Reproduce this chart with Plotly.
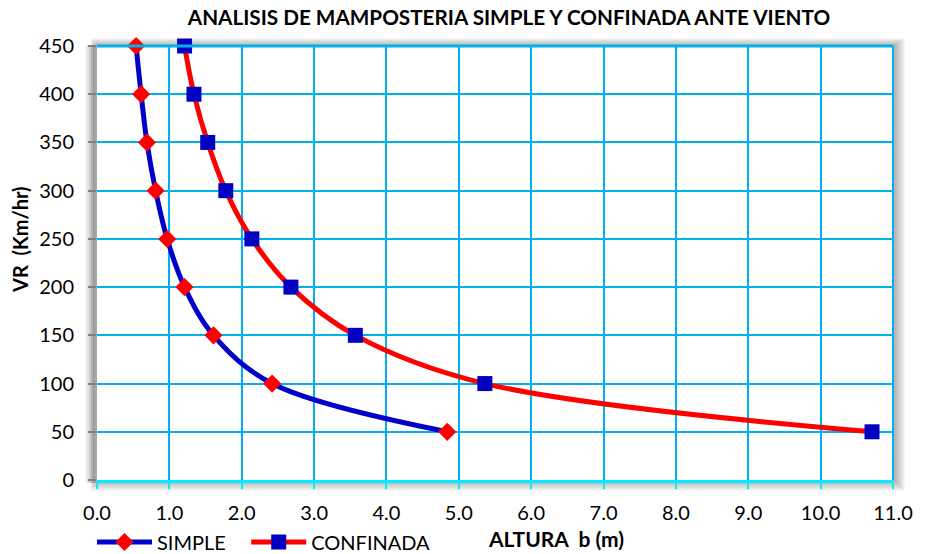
import plotly.graph_objects as go

# Wind speed levels (km/h) and allowable wall height b (m) for each masonry type
vr = [50, 100, 150, 200, 250, 300, 350, 400, 450]
altura_simple = [4.84, 2.42, 1.61, 1.21, 0.97, 0.81, 0.69, 0.61, 0.54]
altura_confinada = [10.71, 5.36, 3.57, 2.68, 2.14, 1.78, 1.53, 1.34, 1.21]

x_ticks = [i for i in range(12)]
y_ticks = [i * 50 for i in range(10)]

W, H = 930, 554
L, R, T, B = 97, 893, 46, 480  # plot area in pixels
FONT = "Lato"


def px_to_paper(x0, y0, x1, y1):
    return dict(
        x0=(x0 - L) / (R - L), x1=(x1 - L) / (R - L),
        y0=(B - y0) / (B - T), y1=(B - y1) / (B - T),
    )


fig = go.Figure()

fig.add_trace(go.Scatter(
    x=altura_simple, y=vr, name="SIMPLE\u00a0\u00a0\u00a0", mode="lines+markers",
    line=dict(color="#0000CC", width=5, shape="spline", smoothing=1),
    marker=dict(symbol="diamond", size=14, color="#FF0000"),
    cliponaxis=False,
))
fig.add_trace(go.Scatter(
    x=altura_confinada, y=vr, name="CONFINADA", mode="lines+markers",
    line=dict(color="#FF0000", width=5, shape="spline", smoothing=1),
    marker=dict(symbol="square", size=15, color="#0000C0"),
    cliponaxis=False,
))

shapes = []
# soft drop shadow around the plot area
for i in range(1, 12):
    shapes.append(dict(
        type="rect", xref="paper", yref="paper", layer="below",
        line=dict(width=0), fillcolor="rgba(60,60,60,0.045)",
        **px_to_paper(L - i * 0.6, T - i * 0.7, R + 1 + i, B + i),
    ))
# white plot face on top of the shadow
shapes.append(dict(
    type="rect", xref="paper", yref="paper", layer="below",
    line=dict(width=0), fillcolor="white", x0=0, x1=1, y0=0, y1=1,
))
# gray wall along the left side
wall = [(86, 89, "#e6e6e6"), (89, 91, "#cccccc"), (91, 93, "#b0b0b0"),
        (93, 95, "#9a9a9a"), (95, 97, "#a8a8a8")]
for x0, x1, c in wall:
    shapes.append(dict(
        type="rect", xref="paper", yref="paper", layer="below",
        line=dict(width=0), fillcolor=c,
        **px_to_paper(x0, T - 1, x1, B + 3),
    ))
# top and right borders of the plot area
shapes.append(dict(type="line", xref="paper", yref="paper", x0=0, x1=1, y0=1, y1=1,
                   line=dict(color="#00B0F0", width=3)))
shapes.append(dict(type="line", xref="paper", yref="paper", x0=1, x1=1, y0=0, y1=1,
                   line=dict(color="#00B0F0", width=2)))

fig.update_layout(
    width=W, height=H,
    margin=dict(l=L, r=W - R, t=T, b=H - B, autoexpand=False),
    paper_bgcolor="white", plot_bgcolor="rgba(0,0,0,0)",
    font=dict(family=FONT, size=20, color="black"),
    title=dict(
        text="<b>ANALISIS DE MAMPOSTERIA SIMPLE Y CONFINADA ANTE VIENTO</b>",
        x=509 / W, xanchor="center", y=1 - 18 / H, yanchor="middle",
        xref="container", yref="container",
        font=dict(family=FONT, size=20.7, color="black"),
    ),
    shapes=shapes,
    showlegend=True,
    legend=dict(
        orientation="h", x=(92 - L) / (R - L), xanchor="left",
        y=(B - 542) / (B - T), yanchor="middle",
        font=dict(family=FONT, size=20), bgcolor="rgba(0,0,0,0)",
        itemwidth=55,
    ),
    annotations=[
        dict(text="<b>ALTURA\u00a0\u00a0b (m)</b>", xref="paper", yref="paper",
             x=(556 - L) / (R - L), y=(B - 538) / (B - T),
             xanchor="center", yanchor="middle", showarrow=False,
             font=dict(family=FONT, size=21)),
        dict(text="<b>VR\u00a0\u00a0(Km/hr)</b>", xref="paper", yref="paper",
             x=(20 - L) / (R - L), y=(B - 240) / (B - T), textangle=-90,
             xanchor="center", yanchor="middle", showarrow=False,
             font=dict(family=FONT, size=20)),
    ],
)

fig.update_xaxes(
    range=[0, 11], tickvals=x_ticks, tickformat=".1f",
    showgrid=True, gridcolor="#00B0F0", gridwidth=2,
    showline=True, linecolor="#00EEFF", linewidth=3,
    ticks="outside", ticklen=6, tickwidth=2, tickcolor="#00EEFF",
    ticklabelstandoff=7, zeroline=False,
)
fig.update_yaxes(
    range=[0, 450], tickvals=y_ticks,
    showgrid=True, gridcolor="#00B0F0", gridwidth=2,
    showline=False,
    ticks="outside", ticklen=8, tickwidth=2, tickcolor="#808080",
    ticklabelstandoff=10, zeroline=False,
)

fig.write_html("out.html")
